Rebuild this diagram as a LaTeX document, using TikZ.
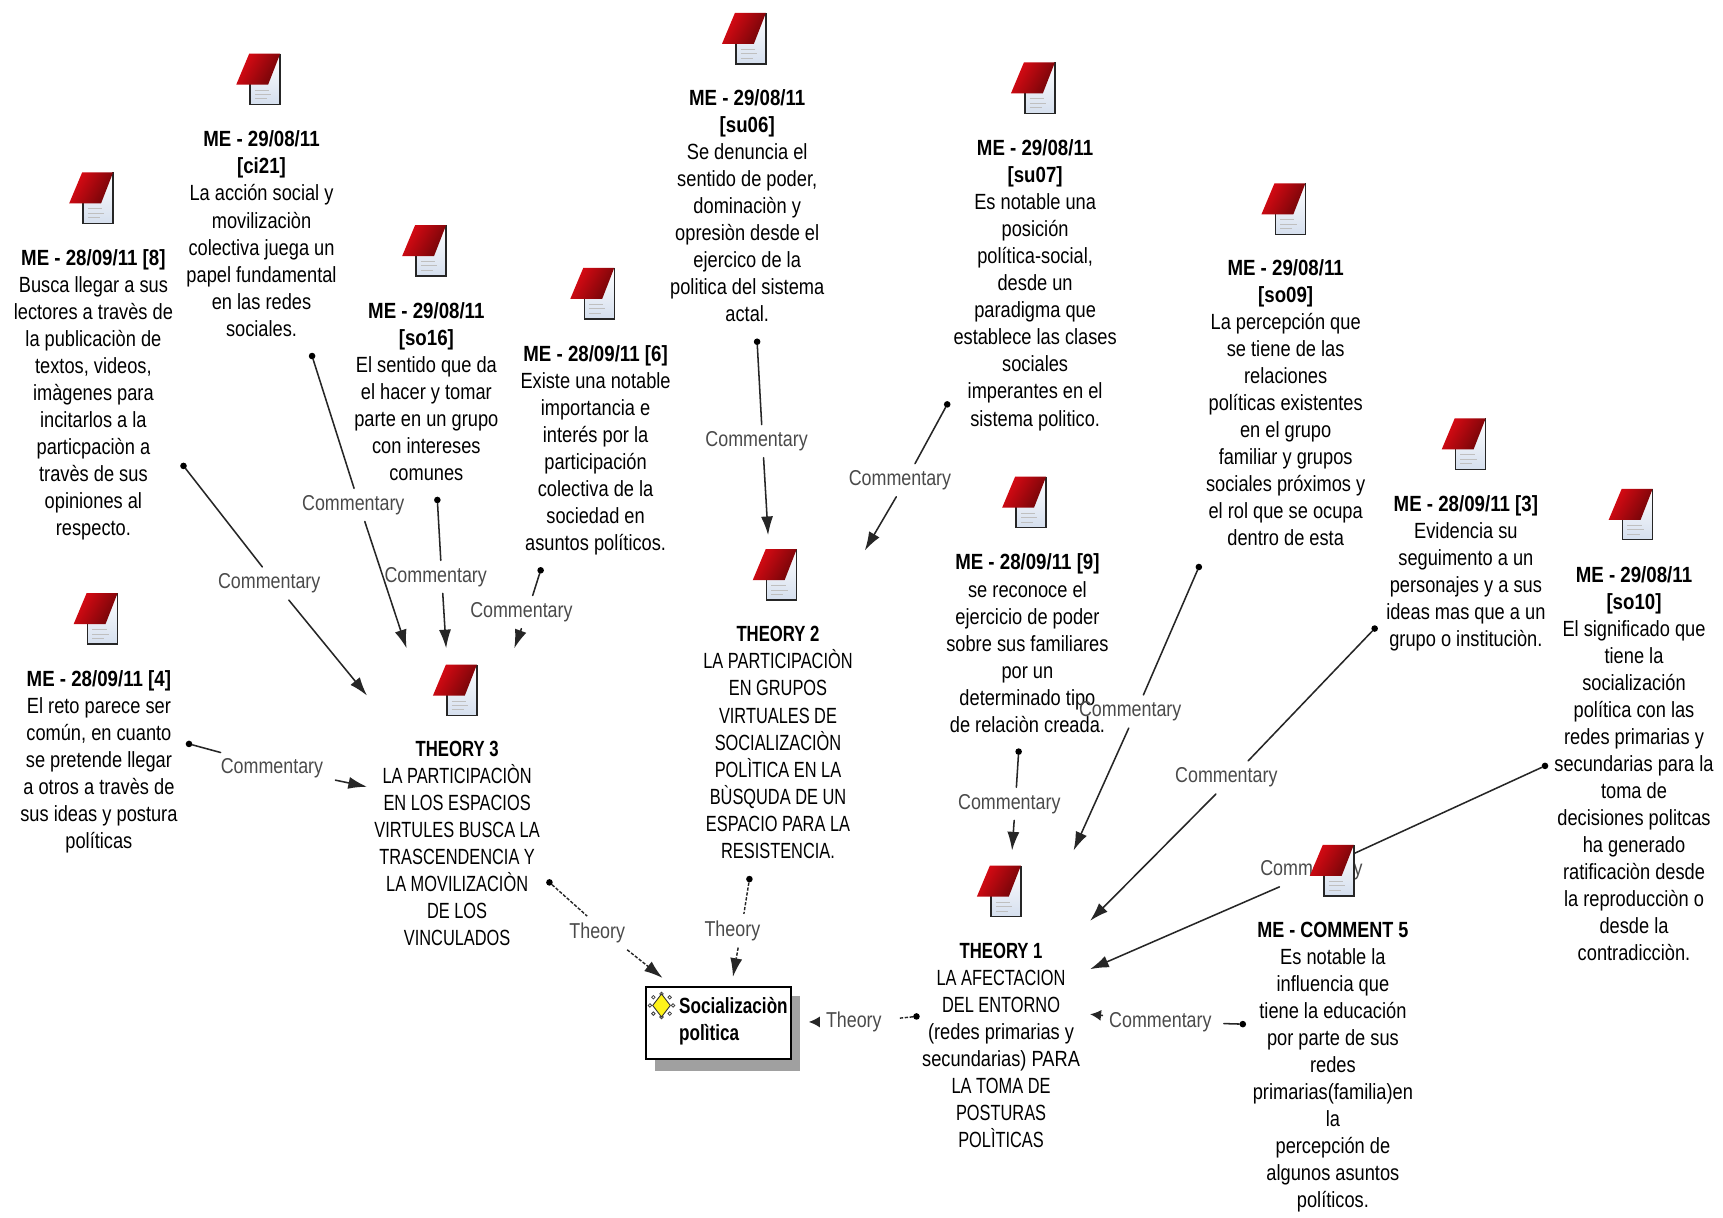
\documentclass[tikz,border=0pt]{standalone}
\usepackage{fontspec}
\setmainfont[FakeStretch=0.83,BoldFeatures={FakeStretch=0.85}]{Liberation Sans}
\newfontfamily\capsf[FakeStretch=0.745,BoldFeatures={FakeStretch=0.76}]{Liberation Sans}
\newfontfamily\commf[FakeStretch=0.82]{Liberation Sans}
\newfontfamily\rootf[FakeStretch=0.78]{Liberation Sans}
\usetikzlibrary{arrows.meta,calc}
\definecolor{lblgray}{HTML}{4A4A4A}
\definecolor{shadowgray}{HTML}{A0A0A0}
\definecolor{flapL}{HTML}{E00A14}
\definecolor{flapR}{HTML}{6E0508}
\definecolor{pageB}{HTML}{D5DFEE}
\newcommand{\lblcomm}{Commentary\hspace*{11pt}}
\newcommand{\lbltheo}{Theory\hspace*{16pt}}
\tikzset{
  x=1pt,y=-1pt,
  memotext/.style={font=\fontsize{20}{24.6}\selectfont,align=center,inner sep=0pt,anchor=north,text=black},
  theorytext/.style={memotext,font=\fontsize{20}{24.6}\selectfont\capsf},
  rellabel/.style={font=\fontsize{19.6}{24}\selectfont,text=lblgray,inner xsep=0pt,inner ysep=6pt,yshift=-2.5pt},
  dotnode/.style={circle,fill=black,inner sep=0pt,minimum size=6pt},
  lnk/.style={draw=black!85,line width=1.4pt,line cap=round},
  arrowlnk/.style={lnk,-{Latex[length=17pt,width=11pt]}},
  shortarrow/.style={lnk,-{Latex[length=10pt,width=10pt]},shorten <=6pt},
  dlnk/.style={lnk,dash pattern=on 3pt off 1.5pt,line cap=butt,line width=1.3pt},
  darrowlnk/.style={dlnk,-{Latex[length=17pt,width=11pt]}},
  dshortarrow/.style={dlnk,-{Latex[length=10pt,width=10pt]},shorten <=6pt},
  rootbox/.style={draw=black,line width=1.5pt,fill=white,minimum width=132pt,minimum height=66pt,inner xsep=0pt,inner ysep=0pt,
    text width=132pt,align=left,font=\fontsize{20}{24.6}\selectfont\rootf\bfseries},
  memo/.pic={
    \shade[top color=white,bottom color=pageB] (-7.3,-23.2) rectangle (20,23.2);
    \draw[black!85,line width=1.3pt] (-7.3,0) -- (-7.3,23.2) -- (20,23.2) -- (20,-23.2);
    \draw[black!25,line width=0.8pt] (-3,10) -- (10,10) (-3,14) -- (12,14) (-3,18) -- (8,18);
    \shade[left color=flapL,right color=flapR,shading angle=60] (-20,5) -- (-8.2,-23.2) -- (20,-23.2) -- (9,5) -- cycle;
  }
}
\begin{document}
\begin{tikzpicture}
\useasboundingbox (0,0) rectangle (1568,1108);
\fill[white] (0,0) rectangle (1568,1108);

% ---- text blocks
\node[memotext] (tci) at (238,119) {\textbf{ME - 29/08/11}\\\textbf{[ci21]}\\La acción social y\\movilizaciòn\\colectiva juega un\\papel fundamental\\en las redes\\sociales.};
\node[memotext] (tviii) at (85,227) {\textbf{ME - 28/09/11 [8]}\\Busca llegar a sus\\lectores a travès de\\la publicaciòn de\\textos, videos,\\imàgenes para\\incitarlos a la\\particpaciòn a\\travès de sus\\opiniones al\\respecto.};
\node[memotext] (tsoxvi) at (388,275) {\textbf{ME - 29/08/11}\\\textbf{[so16]}\\El sentido que da\\el hacer y tomar\\parte en un grupo\\con intereses\\comunes};
\node[memotext] (tvi) at (542,314) {\textbf{ME - 28/09/11 [6]}\\Existe una notable\\importancia e\\interés por la\\participación\\colectiva de la\\sociedad en\\asuntos políticos.};
\node[memotext] (tsuvi) at (680,81) {\textbf{ME - 29/08/11}\\\textbf{[su06]}\\Se denuncia el\\sentido de poder,\\dominaciòn y\\opresiòn desde el\\ejercico de la\\politica del sistema\\actal.};
\node[memotext] (tsuvii) at (942,127) {\textbf{ME - 29/08/11}\\\textbf{[su07]}\\Es notable una\\posición\\política-social,\\desde un\\paradigma que\\establece las clases\\sociales\\imperantes en el\\sistema politico.};
\node[memotext] (tsoix) at (1170,236) {\textbf{ME - 29/08/11}\\\textbf{[so09]}\\La percepción que\\se tiene de las\\relaciones\\políticas existentes\\en el grupo\\familiar y grupos\\sociales próximos y\\el rol que se ocupa\\dentro de esta};
\node[memotext] (tix) at (935,504) {\textbf{ME - 28/09/11 [9]}\\se reconoce el\\ejercicio de poder\\sobre sus familiares\\por un\\determinado tipo\\de relaciòn creada.};
\node[memotext] (tiii) at (1334,451) {\textbf{ME - 28/09/11 [3]}\\Evidencia su\\seguimento a un\\personajes y a sus\\ideas mas que a un\\grupo o instituciòn.};
\node[memotext] (tsox) at (1487,515) {\textbf{ME - 29/08/11}\\\textbf{[so10]}\\El significado que\\tiene la\\socialización\\política con las\\redes primarias y\\secundarias para la\\toma de\\decisiones politcas\\ha generado\\ratificaciòn desde\\la reproducciòn o\\desde la\\contradicciòn.};
\node[theorytext] (ttwo) at (708,570) {\textbf{THEORY 2}\\LA PARTICIPACIÒN\\EN GRUPOS\\VIRTUALES DE\\SOCIALIZACIÒN\\POLÌTICA EN LA\\BÙSQUDA DE UN\\ESPACIO PARA LA\\RESISTENCIA.};
\node[theorytext] (tthree) at (416,674) {\textbf{THEORY 3}\\LA PARTICIPACIÒN\\EN LOS ESPACIOS\\VIRTULES BUSCA LA\\TRASCENDENCIA Y\\LA MOVILIZACIÒN\\DE LOS\\VINCULADOS};
\node[memotext] (tiv) at (90,610) {\textbf{ME - 28/09/11 [4]}\\El reto parece ser\\común, en cuanto\\se pretende llegar\\a otros a travès de\\sus ideas y postura\\políticas};
\node[theorytext] (tone) at (911,858) {\textbf{THEORY 1}\\LA AFECTACION\\DEL ENTORNO\\{\rmfamily (redes primarias y}\\{\rmfamily secundarias) PARA}\\LA TOMA DE\\POSTURAS\\POLÌTICAS};
\node[memotext] (tcomm) at (1213,839) {{\commf\bfseries ME - COMMENT 5}\\Es notable la\\influencia que\\tiene la educación\\por parte de sus\\redes\\primarias(familia)en\\la\\percepción de\\algunos asuntos\\políticos.};

% ---- root box with its shadow
\fill[shadowgray] (596,906) rectangle (728,975);
\node[rootbox] (root) at (654,931) {\hspace*{30pt}Socializaciòn\\\hspace*{30pt}polìtica\rule[-8pt]{0pt}{1pt}};
\foreach \a in {0,45,...,315} \draw[black!75,line width=0.7pt] (602,915) ++(\a:10.5) circle (1.6);
\draw[black!80,line width=0.8pt,fill=yellow!90!white] (602,904.5) -- (610,915) -- (602,925.5) -- (594,915) -- cycle;

% ---- connector ends
\node[dotnode] (d1) at (167,424) {};
\node[dotnode] (d2) at (284,324) {};
\node[dotnode] (d3) at (398,455) {};
\node[dotnode] (d4) at (492,519) {};
\node[dotnode] (d5) at (689,311) {};
\node[dotnode] (d6) at (862,368) {};
\node[dotnode] (d7) at (927,684) {};
\node[dotnode] (d8) at (1091,516) {};
\node[dotnode] (d9) at (1251,572) {};
\node[dotnode] (d10) at (1406,697) {};
\node[dotnode] (d11) at (1131,932) {};
\node[dotnode] (d12) at (172,677) {};
\node[dotnode] (d13) at (500,803) {};
\node[dotnode] (d14) at (682,800) {};
\node[dotnode] (d15) at (834,925) {};
\coordinate (e1) at (334,633);
\coordinate (e2) at (370,590);
\coordinate (e3) at (406,590);
\coordinate (e4) at (468,590);
\coordinate (e5) at (699,487);
\coordinate (e6) at (787,501);
\coordinate (e7) at (921,774);
\coordinate (e8) at (977,774);
\coordinate (e9) at (992,838);
\coordinate (e10) at (992,882);
\coordinate (e11) at (992,923);
\coordinate (e12) at (334,716);
\coordinate (e13) at (603,890);
\coordinate (e14) at (667,889);
\coordinate (e15) at (736,930);

% ---- relation labels, centred on their connector
\node[rellabel] (l1) at ($(d1)!.5!(e1)$) {\lblcomm};
\node[rellabel] (l2) at ($(d2)!.5!(e2)$) {\lblcomm};
\node[rellabel] (l3) at ($(d3)!.5!(e3)$) {\lblcomm};
\node[rellabel] (l4) at ($(d4)!.5!(e4)$) {\lblcomm};
\node[rellabel] (l5) at ($(d5)!.5!(e5)$) {\lblcomm};
\node[rellabel] (l6) at ($(d6)!.5!(e6)$) {\lblcomm};
\node[rellabel] (l7) at ($(d7)!.5!(e7)$) {\lblcomm};
\node[rellabel] (l8) at ($(d8)!.5!(e8)$) {\lblcomm};
\node[rellabel] (l9) at ($(d9)!.5!(e9)$) {\lblcomm};
\node[rellabel] (l10) at ($(d10)!.5!(e10)$) {\lblcomm};
\node[rellabel] (l11) at ($(d11)!.5!(e11)$) {\lblcomm};
\node[rellabel] (l12) at ($(d12)!.5!(e12)$) {\lblcomm};
\node[rellabel] (l13) at ($(d13)!.5!(e13)$) {\lbltheo};
\node[rellabel] (l14) at ($(d14)!.5!(e14)$) {\lbltheo};
\node[rellabel] (l15) at ($(d15)!.5!(e15)$) {\lbltheo};

% ---- connectors
\foreach \i in {1,...,10,12} {
  \draw[lnk] (d\i) -- (l\i);
  \draw[arrowlnk] (l\i) -- (e\i);
}
\draw[lnk] (d11) -- (l11);
\draw[shortarrow] (l11) -- (e11);
\foreach \i in {13,14} {
  \draw[dlnk] (d\i) -- (l\i);
  \draw[darrowlnk] (l\i) -- (e\i);
}
\draw[dlnk] (d15) -- (l15);
\draw[dshortarrow] (l15) -- (e15);

% ---- icons
\pic at (235,72) {memo};
\pic at (83,180) {memo};
\pic at (386,228) {memo};
\pic at (539,267) {memo};
\pic at (677,35) {memo};
\pic at (940,80) {memo};
\pic at (1168,190) {memo};
\pic at (932,457) {memo};
\pic at (1332,404) {memo};
\pic at (1484,468) {memo};
\pic at (705,523) {memo};
\pic at (414,628) {memo};
\pic at (87,563) {memo};
\pic at (909,811) {memo};
\pic at (1212,792) {memo};
\end{tikzpicture}
\end{document}
